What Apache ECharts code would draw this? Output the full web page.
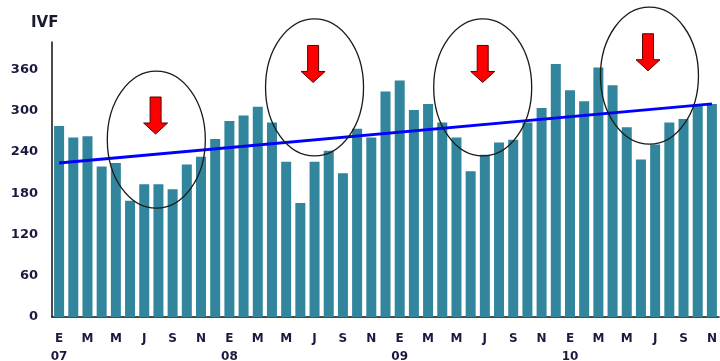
<!DOCTYPE html>
<html>
<head>
<meta charset="utf-8">
<script src="https://cdn.jsdelivr.net/npm/echarts@6/dist/echarts.min.js"></script>
<style>
  html, body { margin: 0; padding: 0; background: #ffffff; }
  #chart { width: 720px; height: 361px; }
</style>
</head>
<body>
<div id="chart"></div>
<script>
// Monthly IVF cycles, January 2007 to November 2010
const monthLetters = ['E', 'F', 'M', 'A', 'M', 'J', 'J', 'A', 'S', 'O', 'N', 'D'];
const years = ['07', '08', '09', '10'];

const ivf2007 = [278, 261, 263, 219, 224, 169, 193, 193, 186, 222, 233, 259];
const ivf2008 = [285, 293, 306, 283, 226, 166, 226, 242, 209, 274, 261, 328];
const ivf2009 = [344, 301, 310, 283, 261, 212, 236, 254, 258, 283, 304, 368];
const ivf2010 = [330, 314, 363, 337, 276, 229, 251, 283, 288, 308, 310];

// Linear trend: value at the first and at the last month
const trendStart = 224;
const trendEnd = 310;

// Summer dips highlighted with a circle and an arrow: [month index, value]
const dipCircles = [[6.85, 258], [18, 334], [29.85, 334], [41.6, 351]];
const dipArrows = [[6.8, 320], [17.9, 395], [29.85, 395], [41.5, 412]];

const yMin = 0, yMax = 400, yStep = 60;

const ivfValues = [].concat(ivf2007, ivf2008, ivf2009, ivf2010);
const categories = [];
years.forEach(function (y) {
  monthLetters.forEach(function (m, i) {
    if (categories.length < ivfValues.length) categories.push(m + '-' + y + '-' + i);
  });
});
const trendData = ivfValues.map(function (v, i) {
  if (i === 0) return trendStart;
  if (i === ivfValues.length - 1) return trendEnd;
  return null;
});

const labelFont = 'DejaVu Sans, Verdana, sans-serif';
const chart = echarts.init(document.getElementById('chart'), null, { renderer: 'canvas' });

chart.setOption({
  animation: false,
  backgroundColor: '#ffffff',
  title: {
    text: 'IVF',
    left: 26,
    top: 11,
    textStyle: { fontFamily: labelFont, fontWeight: 'bold', fontSize: 15, color: '#1a1a2e' }
  },
  grid: { left: 52, right: 1, top: 42, bottom: 44, outerBoundsMode: 'none', containLabel: false },
  xAxis: {
    type: 'category',
    data: categories,
    axisLine: { lineStyle: { color: '#111111', width: 1.5 } },
    axisTick: { show: false },
    splitLine: { show: false },
    axisLabel: {
      interval: 1,
      margin: 13,
      lineHeight: 18,
      fontFamily: labelFont,
      fontWeight: 'bold',
      fontSize: 12,
      color: '#1a1a40',
      formatter: function (val) {
        const parts = val.split('-');
        return parts[2] === '0' ? parts[0] + '\n' + parts[1] : parts[0];
      }
    }
  },
  yAxis: {
    type: 'value',
    min: yMin,
    max: yMax,
    interval: yStep,
    axisLine: { show: true, lineStyle: { color: '#111111', width: 1.5 } },
    axisTick: { show: false },
    splitLine: { show: false },
    axisLabel: {
      showMaxLabel: false,
      margin: 14,
      fontFamily: labelFont,
      fontWeight: 'bold',
      fontSize: 13,
      color: '#1a1a40'
    }
  },
  series: [
    {
      type: 'bar',
      data: ivfValues,
      barWidth: 10,
      itemStyle: { color: '#31859c' },
      z: 2
    },
    {
      type: 'line',
      data: trendData,
      connectNulls: true,
      showSymbol: false,
      symbol: 'none',
      lineStyle: { color: '#0000ff', width: 3 },
      z: 3
    }
  ]
});

// Annotations positioned through the axes
const x0 = chart.convertToPixel({ xAxisIndex: 0 }, 0);
const x1 = chart.convertToPixel({ xAxisIndex: 0 }, 1);
const xAt = function (i) { return x0 + (x1 - x0) * i; };
const yAt = function (v) { return chart.convertToPixel({ yAxisIndex: 0 }, v); };

const graphics = [];
dipCircles.forEach(function (c) {
  graphics.push({
    type: 'ellipse',
    shape: { cx: xAt(c[0]), cy: yAt(c[1]), rx: 49, ry: 68.5 },
    style: { fill: 'none', stroke: '#1a1a1a', lineWidth: 1.3 },
    z: 10
  });
});
dipArrows.forEach(function (a) {
  const cx = xAt(a[0]);
  const ty = yAt(a[1]);
  graphics.push({
    type: 'polygon',
    shape: {
      points: [
        [cx - 5.5, ty], [cx + 5.5, ty], [cx + 5.5, ty + 26], [cx + 12, ty + 26],
        [cx, ty + 37], [cx - 12, ty + 26], [cx - 5.5, ty + 26]
      ]
    },
    style: { fill: '#ff0000', stroke: '#5a0000', lineWidth: 1 },
    z: 11
  });
});
chart.setOption({ graphic: graphics });
</script>
</body>
</html>
